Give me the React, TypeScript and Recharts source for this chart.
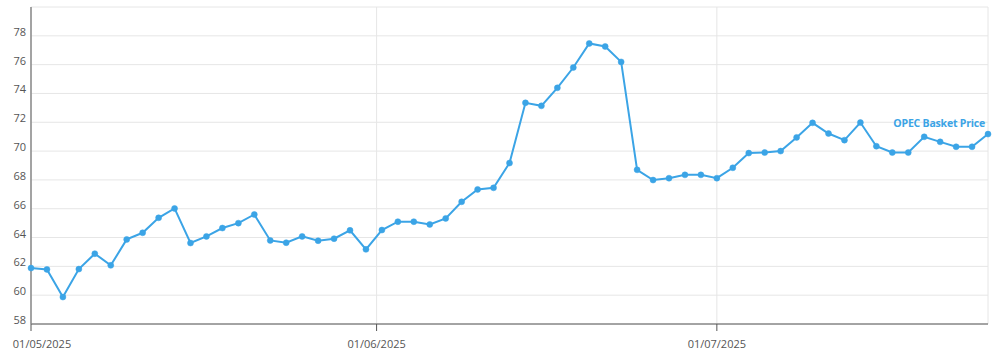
import { LineChart, Line, XAxis, YAxis, CartesianGrid } from 'recharts'

// trading days (weekdays) shown, per month of 2025
const mayDays = [1, 2, 5, 6, 7, 8, 9, 12, 13, 14, 15, 16, 19, 20, 21, 22, 23, 26, 27, 28, 29, 30]
const junDays = [2, 3, 4, 5, 6, 9, 10, 11, 12, 13, 16, 17, 18, 19, 20, 23, 24, 25, 26, 27, 30]
const julDays = [1, 2, 3, 4, 7, 8, 9, 10, 11, 14, 15, 16, 17, 18, 21, 22, 23, 24]

// OPEC basket price, USD/bbl
const prices = [
  61.88, 61.79, 59.87, 61.81, 62.88, 62.07, 63.87, 64.33, 65.37, 66.02,
  63.62, 64.08, 64.66, 65.0, 65.6, 63.8, 63.64, 64.08, 63.78, 63.92,
  64.5, 63.18, 64.52, 65.1, 65.1, 64.91, 65.33, 66.48, 67.34, 67.45,
  69.17, 73.35, 73.14, 74.39, 75.8, 77.47, 77.26, 76.19, 68.7, 67.99,
  68.12, 68.35, 68.35, 68.12, 68.84, 69.86, 69.9, 70.0, 70.95, 71.96,
  71.22, 70.76, 71.98, 70.34, 69.9, 69.9, 70.99, 70.64, 70.3, 70.3,
  71.18,
]

const monthTickLabels = ['01/05/2025', '01/06/2025', '01/07/2025']
const yTicks = [58, 60, 62, 64, 66, 68, 70, 72, 74, 76, 78, 80]

const SERIES = 'OPEC Basket Price'
const BLUE = '#3ba4e6'
const FONT = '"Open Sans", "Noto Sans", sans-serif'

const dates: Date[] = [
  ...mayDays.map(d => new Date(2025, 4, d)),
  ...junDays.map(d => new Date(2025, 5, d)),
  ...julDays.map(d => new Date(2025, 6, d)),
]

const data = prices.map((price, i) => ({ pos: i, price }))

// month starts that fall on weekends sit between the surrounding trading days
const toPos = (label: string) => {
  const [d, m, y] = label.split('/').map(Number)
  const t = new Date(y, m - 1, d).getTime()
  const next = dates.findIndex(x => x.getTime() >= t)
  if (next <= 0 || dates[next].getTime() === t) return next
  const a = dates[next - 1].getTime(), b = dates[next].getTime()
  return next - 1 + (t - a) / (b - a)
}
const xTicks = monthTickLabels.map(toPos)
const labelAt = (v: number) => monthTickLabels[xTicks.findIndex(t => Math.abs(t - v) < 1e-6)] ?? ''

const XTick = (p: any) => (
  <text x={p.x + (p.index === 0 ? 11 : 0)} y={p.y + 15} textAnchor="middle"
    fontSize={11} fontFamily={FONT} fill="#555">{labelAt(p.payload.value)}</text>
)

const YTick = (p: any) => p.payload.value === 80 ? null : (
  <text x={p.x} y={p.y} textAnchor="end" fontSize={11} fontFamily={FONT} fill="#555">{p.payload.value}</text>
)

const EndLabel = (p: any) => p.index !== prices.length - 1 ? null : (
  <text x={p.x - 3} y={p.y - 7.5} textAnchor="end" fontSize={10.5} fontWeight={700} letterSpacing={-0.2}
    fontFamily={FONT} fill={BLUE}>{SERIES}</text>
)

export default function App() {
  return (
    <div style={{ position: 'absolute', left: 0, top: 0, background: '#fff' }}>
      <LineChart width={1000} height={357} data={data} margin={{ top: 7, right: 12, left: 0, bottom: 0 }}>
        <CartesianGrid stroke="#e6e6e6" />
        <XAxis dataKey="pos" type="number" domain={[0, prices.length - 1]} ticks={xTicks}
          height={33} tick={<XTick />} tickSize={7} stroke="#555" interval={0} />
        <YAxis domain={[58, 80]} ticks={yTicks} width={31} tick={<YTick />} tickLine={false}
          tickSize={0} tickMargin={5} stroke="#888" strokeWidth={1.5} interval={0} />
        <Line dataKey="price" name={SERIES} stroke={BLUE} strokeWidth={2}
          dot={{ r: 3, fill: BLUE, stroke: BLUE, strokeWidth: 0.5 }} label={<EndLabel />}
          isAnimationActive={false} />
      </LineChart>
    </div>
  )
}
